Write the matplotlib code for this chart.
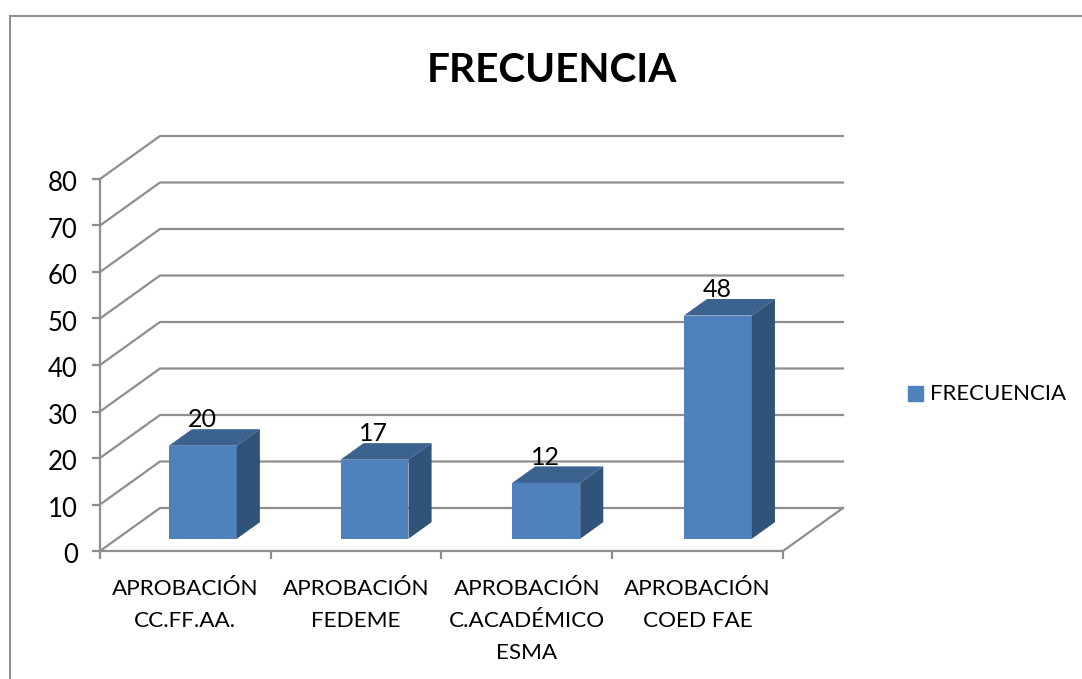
import matplotlib
matplotlib.use('Agg')
import matplotlib.pyplot as plt
from matplotlib.transforms import ScaledTranslation
import numpy as np

plt.rcParams['font.family'] = ['Lato', 'DejaVu Sans']

categories = ['APROBACIÓN\nCC.FF.AA.', 'APROBACIÓN\nFEDEME', 'APROBACIÓN\nC.ACADÉMICO\nESMA', 'APROBACIÓN\nCOED FAE']
values = [20, 17, 12, 48]
yticks = [0, 10, 20, 30, 40, 50, 60, 70, 80]

W, H = 1082, 679
GRID = '#8e8e8e'
FRONT = '#4f81bd'
TOP = '#3c6290'
SIDE = '#305379'

# oblique depth of the floor, in data units
DX = 60 / 683 * 4
DY = 43 / 372 * 80
# where the bar sits inside the depth (fractions)
D0 = 0.285
D1 = 0.67
BAR_W = 0.398
# bars step a little wider than the front axis because they sit further back
STEP = 1.0055

fig = plt.figure(figsize=(W / 100, H / 100), dpi=100)
ax = fig.add_axes([100 / W, (H - 551) / H, 683 / W, 372 / H])
ax.set_xlim(0, 4)
ax.set_ylim(0, 80)
ax.patch.set_alpha(0)
for s in ['top', 'right']:
    ax.spines[s].set_visible(False)
for s in ['left', 'bottom']:
    ax.spines[s].set_color(GRID)
    ax.spines[s].set_linewidth(1.6)

# walls
for v in yticks:
    ax.plot([0, DX, 4 + DX], [v, v + DY, v + DY], color=GRID, lw=1.6, clip_on=False, zorder=1)
ax.plot([4, 4 + DX], [0, DY], color=GRID, lw=1.6, clip_on=False, zorder=1)

# bars
x = np.arange(len(values))
for i, v in enumerate(values):
    left = x[i] * STEP + 0.5 - BAR_W / 2 + D0 * DX + 0.002
    right = left + BAR_W
    y0 = D0 * DY
    top = y0 + v
    ddx = (D1 - D0) * DX
    ddy = (D1 - D0) * DY
    ax.bar(left, v, width=BAR_W, bottom=y0, align='edge', color=FRONT, zorder=3, clip_on=False)
    ax.fill([left, right, right + ddx, left + ddx], [top, top, top + ddy, top + ddy],
            color=TOP, lw=0, zorder=3, clip_on=False)
    ax.fill([right, right + ddx, right + ddx, right], [y0, y0 + ddy, top + ddy, top],
            color=SIDE, lw=0, zorder=3, clip_on=False)
    ax.text(left + BAR_W / 2 - 0.004, top + 3.1, str(v), ha='center', va='bottom', fontsize=18,
            color='black', zorder=2, clip_on=False)

ax.set_yticks(yticks)
ax.set_xticks(np.arange(5))
ax.set_xticklabels([])
ax.tick_params(axis='y', length=6, width=1.6, color=GRID, labelsize=18.5, pad=10)
ax.tick_params(axis='x', length=5.5, width=1.6, color=GRID)
shift = ScaledTranslation(0, -1.5 / 72, fig.dpi_scale_trans)
for lab in ax.get_yticklabels():
    lab.set_transform(lab.get_transform() + shift)
for i, c in enumerate(categories):
    ax.annotate(c, (i + 0.5, 0), xytext=(0, -20), textcoords='offset points', ha='center', va='top',
                fontsize=16.2, linespacing=1.76, annotation_clip=False)

# chart frame, only top and left are in the picture
fig.add_artist(plt.Line2D([10 / W, 1], [1 - 15.5 / H, 1 - 15.5 / H], color=GRID, lw=1.4))
fig.add_artist(plt.Line2D([10 / W, 10 / W], [0, 1 - 15.5 / H], color=GRID, lw=1.4))

fig.text(552 / W, 1 - 71 / H, 'FRECUENCIA', ha='center', va='center', fontsize=29.2, fontweight='bold')

# legend
fig.patches.append(plt.Rectangle((908 / W, 1 - 401 / H), 15 / W, 15 / H, color=FRONT, transform=fig.transFigure))
fig.text(930 / W, 1 - 394 / H, 'FRECUENCIA', ha='left', va='center', fontsize=16)

fig.savefig('out.png', dpi=100)
